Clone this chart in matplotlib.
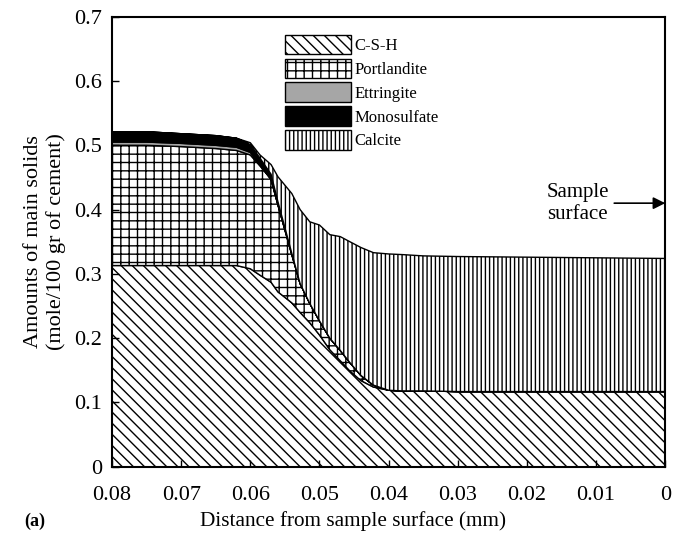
import numpy as np
import matplotlib
matplotlib.use("Agg")
import matplotlib.pyplot as plt
from matplotlib.patches import Patch

plt.rcParams['font.family'] = ['Liberation Serif', 'DejaVu Serif']
plt.rcParams['hatch.linewidth'] = 1.0

# distance from sample surface (mm)
dist = [0.08, 0.075, 0.07, 0.065, 0.062, 0.060, 0.0586, 0.057, 0.056, 0.054,
        0.0528, 0.0514, 0.050, 0.0485, 0.047, 0.0456, 0.044, 0.0422, 0.040,
        0.038, 0.035, 0.030, 0.020, 0.010, 0.0]

# amounts of each phase (mole / 100 gr of cement)
csh = [0.313, 0.313, 0.313, 0.313, 0.313, 0.308, 0.298, 0.287, 0.272, 0.255,
       0.240, 0.224, 0.205, 0.182, 0.165, 0.149, 0.134, 0.124, 0.119,
       0.118, 0.118, 0.117, 0.117, 0.117, 0.117]
portlandite = [0.187, 0.187, 0.185, 0.182, 0.179, 0.177, 0.170, 0.160, 0.135, 0.075,
               0.045, 0.030, 0.022, 0.018, 0.016, 0.013, 0.008, 0.003, 0.0,
               0.0, 0.0, 0.0, 0.0, 0.0, 0.0]
ettringite = [0.005, 0.005, 0.005, 0.005, 0.005, 0.004, 0.002, 0.0, 0.0, 0.0,
              0.0, 0.0, 0.0, 0.0, 0.0, 0.0, 0.0, 0.0, 0.0,
              0.0, 0.0, 0.0, 0.0, 0.0, 0.0]
monosulfate = [0.016, 0.016, 0.015, 0.015, 0.014, 0.012, 0.010, 0.008, 0.005, 0.002,
               0.0, 0.0, 0.0, 0.0, 0.0, 0.0, 0.0, 0.0, 0.0,
               0.0, 0.0, 0.0, 0.0, 0.0, 0.0]
calcite = [0.0, 0.0, 0.0, 0.0, 0.0, 0.003, 0.005, 0.015, 0.039, 0.093,
           0.115, 0.127, 0.149, 0.161, 0.177, 0.188, 0.199, 0.206, 0.212,
           0.212, 0.210, 0.210, 0.209, 0.208, 0.207]

names = ['C-S-H', 'Portlandite', 'Ettringite', 'Monosulfate', 'Calcite']
hatches = ['\\\\\\', '++', '', '', '||||']
colors = ['white', 'white', '#a6a6a6', 'black', 'white']

xticks = [0.08, 0.07, 0.06, 0.05, 0.04, 0.03, 0.02, 0.01, 0.0]
xticklabels = ['0.08', '0.07', '0.06', '0.05', '0.04', '0.03', '0.02', '0.01', '0']
yticks = [0, 0.1, 0.2, 0.3, 0.4, 0.5, 0.6, 0.7]
yticklabels = ['0', '0.1', '0.2', '0.3', '0.4', '0.5', '0.6', '0.7']

fig = plt.figure(figsize=(6.83, 5.39), dpi=100)
ax = fig.add_axes([0.164, 0.134, 0.81, 0.835])

x = np.array(dist)
layers = [csh, portlandite, ettringite, monosulfate, calcite]
bottom = np.zeros(len(x))
for vals, name, h, c in zip(layers, names, hatches, colors):
    top = bottom + np.array(vals)
    ax.fill_between(x, bottom, top, facecolor=c, edgecolor='black',
                    hatch=h, linewidth=1.0)
    bottom = top

ax.set_xlim(0.08, 0.0)
ax.set_ylim(0, 0.7)
ax.set_xticks(xticks)
ax.set_xticklabels(xticklabels)
ax.set_yticks(yticks)
ax.set_yticklabels(yticklabels)
ax.tick_params(direction='in', labelsize=16, length=5, width=1)
ax.tick_params(axis='x', pad=14)
ax.tick_params(axis='y', pad=7)
for s in ax.spines.values():
    s.set_linewidth(1.5)

ax.set_xlabel('Distance from sample surface (mm)', fontsize=15.3)
ax.xaxis.set_label_coords(0.436, -0.098)
ax.set_ylabel('Amounts of main solids\n(mole/100 gr of cement)', fontsize=16,
              labelpad=6)

handles = [Patch(facecolor=c, edgecolor='black', hatch=h, label=n)
           for n, h, c in zip(names, hatches, colors)]
ax.legend(handles=handles, loc='upper left', bbox_to_anchor=(0.3, 0.975),
          frameon=False, fontsize=12, handlelength=4.0, handleheight=1.4,
          handletextpad=0.2, labelspacing=0.28, borderaxespad=0)

ax.annotate('Sample\nsurface', xy=(0.0, 0.41), xytext=(0.0127, 0.41),
            ha='center', va='center', fontsize=15,
            arrowprops=dict(arrowstyle='-|>', color='black', lw=1.2,
                            mutation_scale=18, shrinkA=2, shrinkB=0))

fig.text(0.035, 0.025, '(a)', fontsize=13, fontweight='bold')

fig.savefig('out.png', dpi=100)
